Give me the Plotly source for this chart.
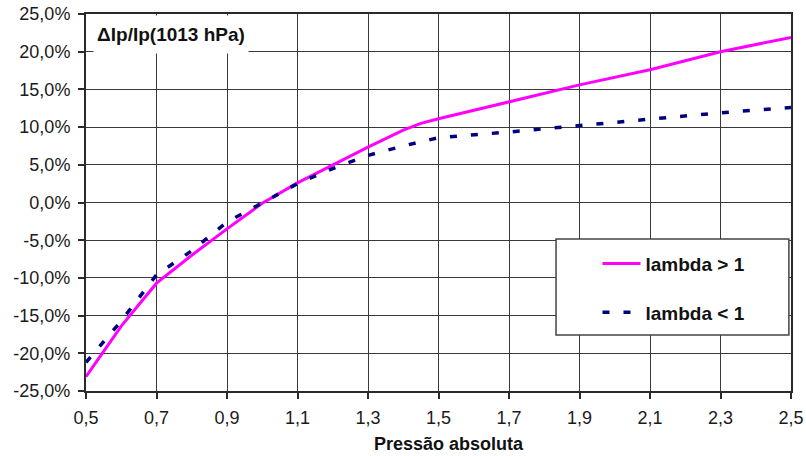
import plotly.graph_objects as go

# Relative variation of Ip versus absolute pressure (reference 1013 hPa)
pressure_hi = [0.5, 0.6, 0.7, 0.8, 0.9, 1.0, 1.1, 1.2, 1.3, 1.4, 1.45, 1.5, 1.7, 1.9, 2.1, 2.3, 2.5]
delta_hi = [-23.1, -16.4, -10.7, -7.0, -3.5, -0.1, 2.6, 5.0, 7.35, 9.6, 10.5, 11.1, 13.3, 15.6, 17.6, 20.0, 21.9]

pressure_lo = [0.5, 0.6, 0.7, 0.8, 0.9, 1.0, 1.1, 1.2, 1.3, 1.4, 1.5, 1.7, 1.9, 2.1, 2.3, 2.5]
delta_lo = [-21.2, -15.7, -9.6, -6.4, -2.6, 0.0, 2.5, 4.5, 6.25, 7.5, 8.6, 9.35, 10.2, 11.0, 11.9, 12.6]

x_ticks = [0.5, 0.7, 0.9, 1.1, 1.3, 1.5, 1.7, 1.9, 2.1, 2.3, 2.5]
x_labels = ["0,5", "0,7", "0,9", "1,1", "1,3", "1,5", "1,7", "1,9", "2,1", "2,3", "2,5"]
y_ticks = [-25, -20, -15, -10, -5, 0, 5, 10, 15, 20, 25]
y_labels = ["-25,0%", "-20,0%", "-15,0%", "-10,0%", "-5,0%", "0,0%",
            "5,0%", "10,0%", "15,0%", "20,0%", "25,0%"]

FONT = "Liberation Sans, Arial, sans-serif"

fig = go.Figure()
fig.add_trace(go.Scatter(
    x=pressure_hi, y=delta_hi, mode="lines", name="<b>lambda > 1</b>",
    legendgroup="a",
    line=dict(color="#FF00FF", width=3),
))
fig.add_trace(go.Scatter(
    x=pressure_lo, y=delta_lo, mode="lines", name="<b>lambda < 1</b>",
    legendgroup="b",
    line=dict(color="#000080", width=3.5, dash="7px,14px"),
))

axis_common = dict(
    showgrid=True, gridcolor="#3a3a3a", gridwidth=1,
    showline=True, linecolor="#2a2a2a", linewidth=2, mirror=True,
    ticks="outside", ticklen=6, tickcolor="#2a2a2a", tickwidth=1.5,
    zeroline=False, automargin=False,
    tickfont=dict(family=FONT, size=18, color="#1a1a1a"),
)

fig.update_xaxes(range=[0.5, 2.5], tickvals=x_ticks, ticktext=x_labels,
                 ticklabelstandoff=3, **axis_common)
fig.update_yaxes(range=[-25, 25], tickvals=y_ticks, ticktext=y_labels,
                 ticklabelstandoff=4, **axis_common)

# Legend frame
fig.add_shape(type="rect", xref="paper", yref="paper",
              x0=0.6667, x1=0.997, y0=0.1485, y1=0.4032,
              fillcolor="white", line=dict(color="#444444", width=1.5),
              layer="above")

fig.update_layout(
    width=806, height=456,
    margin=dict(l=86, r=15, t=14, b=65, autoexpand=False),
    paper_bgcolor="white", plot_bgcolor="white",
    showlegend=True,
    legend=dict(
        x=0.7255, y=0.388, xanchor="left", yanchor="top",
        bgcolor="rgba(0,0,0,0)", borderwidth=0,
        font=dict(family=FONT, size=19, color="#111111"),
        tracegroupgap=21, itemwidth=38, traceorder="grouped",
    ),
    annotations=[
        dict(text="<b>ΔIp/Ip(1013 hPa)</b>", xref="paper", yref="paper",
             x=0.1206, y=0.946, xanchor="center", yanchor="middle",
             showarrow=False, bgcolor="white", width=154, height=37,
             borderpad=0, font=dict(family=FONT, size=19, color="#111111")),
        dict(text="<b>Pressão absoluta</b>", xref="paper", yref="paper",
             x=0.515, y=-0.14, xanchor="center", yanchor="middle",
             showarrow=False, font=dict(family=FONT, size=18, color="#111111")),
    ],
)

fig.write_html("out.html")
